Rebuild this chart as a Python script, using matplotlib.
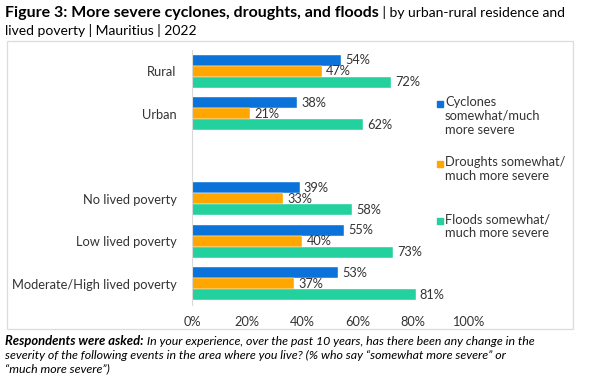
import numpy as np
import matplotlib.pyplot as plt
from matplotlib.patches import Rectangle

categories = ['Rural', 'Urban', '', 'No lived poverty', 'Low lived poverty',
              'Moderate/High lived poverty']
cyclones = [54, 38, np.nan, 39, 55, 53]
droughts = [47, 21, np.nan, 33, 40, 37]
floods = [72, 62, np.nan, 58, 73, 81]
series_names = ['Cyclones\nsomewhat/much\nmore severe',
                'Droughts somewhat/\nmuch more severe',
                'Floods somewhat/\nmuch more severe']
colors = ['#0A72D8', '#FFA600', '#23D19E']
xticks = [0, 20, 40, 60, 80, 100]

plt.rcParams['font.family'] = ['Lato', 'DejaVu Sans']
txt = '#333333'

fig = plt.figure(figsize=(6.02, 3.8), dpi=100)
W, H = 602, 380

def px(x, y):
    return x / W, 1 - y / H

# frame around chart
fig.patches.append(Rectangle(px(7, 329), 566 / W, 288 / H, transform=fig.transFigure,
                             fill=False, edgecolor='#dcdcdc', linewidth=0.9))

ax = fig.add_axes([192 / W, 1 - 305 / H, 276 / W, 255 / H])
y = np.arange(len(categories))
h = 0.255
for i, (vals, c) in enumerate(zip([cyclones, droughts, floods], colors)):
    pos = y + (i - 1) * h
    ax.barh(pos, vals, height=h, color=c, edgecolor='white', linewidth=0.3)
    for p, v in zip(pos, vals):
        if not np.isnan(v):
            ax.text(v + 1.5, p, f'{v:.0f}%', va='center', ha='left',
                    fontsize=9.2, color=txt)

ax.set_ylim(5.5, -0.5)
ax.set_xlim(0, 100)
ax.set_yticks(y)
ax.set_yticklabels(categories, fontsize=9.3, color=txt)
ax.set_xticks(xticks)
ax.set_xticklabels([f'{t}%' for t in xticks], fontsize=9.2, color=txt)
ax.tick_params(length=0, pad=11)
ax.tick_params(axis='x', pad=8)
for s in ['top', 'right', 'bottom']:
    ax.spines[s].set_visible(False)
ax.spines['left'].set_color('#d9d9d9')

# legend
leg_y = [103, 163, 220]
for ly, name, c in zip(leg_y, series_names, colors):
    fig.patches.append(Rectangle(px(437, ly + 4), 6 / W, 6 / H,
                                 transform=fig.transFigure, color=c))
    fig.text(*px(445, ly - 7), name, fontsize=9.3, color=txt, va='top',
             ha='left', linespacing=1.2)

renderer = fig.canvas.get_renderer()

def mixed(x, y, parts):
    for s, weight, style, size in parts:
        t = fig.text(*px(x, y), s, fontsize=size, fontweight=weight,
                     fontstyle=style, color='black', va='baseline', ha='left')
        bb = t.get_window_extent(renderer)
        x += bb.width

mixed(5, 17, [('Figure 3: More severe cyclones, droughts, and floods', 'bold', 'normal', 11.5),
              (' | by urban-rural residence and', 'normal', 'normal', 10)])
mixed(5, 35, [('lived poverty | Mauritius | 2022', 'normal', 'normal', 10)])

mixed(5, 345, [('Respondents were asked:', 'bold', 'italic', 9.4),
               (' In your experience, over the past 10 years, has there been any change in the',
                'normal', 'italic', 8.9)])
mixed(5, 359, [('severity of the following events in the area where you live? '
                '(% who say \u201csomewhat more severe\u201d or', 'normal', 'italic', 8.9)])
mixed(5, 372, [('\u201cmuch more severe\u201d)', 'normal', 'italic', 8.9)])

fig.savefig('out.png', dpi=100)
